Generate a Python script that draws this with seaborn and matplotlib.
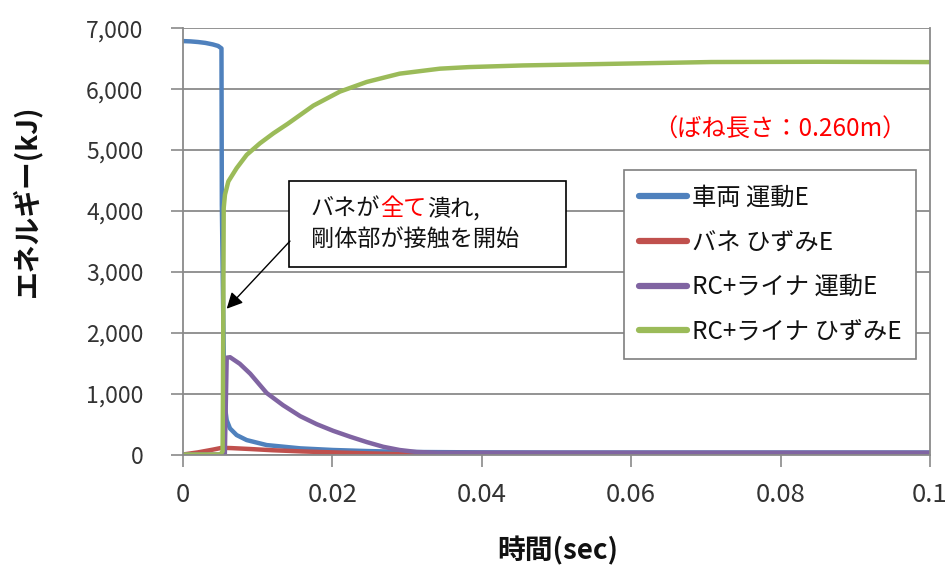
import numpy as np
import pandas as pd
import matplotlib
matplotlib.use("Agg")
import matplotlib.pyplot as plt
import matplotlib.ticker as mticker
from matplotlib.patches import Rectangle
import seaborn as sns

# ---------------- data ----------------
series_names = ["車両 運動E", "バネ ひずみE", "RC+ライナ 運動E", "RC+ライナ ひずみE"]
series_colors = ["#4F81BD", "#C0504D", "#8064A2", "#9BBB59"]

car_t = [0, 0.001, 0.002, 0.003, 0.004, 0.0047, 0.00515, 0.0052, 0.0055, 0.00562, 0.00585,
         0.00629, 0.00718, 0.00852, 0.0112, 0.0157, 0.0201, 0.0246, 0.03, 0.04, 0.05,
         0.06, 0.07, 0.08, 0.09, 0.1]
car_e = [6790, 6785, 6775, 6760, 6735, 6710, 6670, 4100, 1200, 781, 564,
         428, 319, 237, 155, 101, 74, 57, 42, 35, 32,
         32, 32, 32, 32, 32]

spring_t = [0, 0.002, 0.004, 0.0052, 0.0065, 0.009, 0.012, 0.016, 0.02, 0.025, 0.03, 0.04, 0.1]
spring_e = [0, 35, 80, 110, 105, 90, 70, 50, 35, 18, 5, 0, 0]

rc_kin_t = [0, 0.005, 0.0056, 0.00585, 0.0063, 0.0076, 0.0090, 0.0112, 0.0134, 0.0157,
            0.0179, 0.0201, 0.0224, 0.0246, 0.0268, 0.029, 0.0313, 0.034, 0.04, 0.06,
            0.08, 0.1]
rc_kin_e = [0, 0, 0, 1590, 1598, 1490, 1327, 1010, 809, 629,
            498, 389, 291, 204, 127, 74, 41, 30, 30, 30,
            30, 30]

rc_str_t = [0, 0.002, 0.004, 0.005, 0.0053, 0.00535, 0.0054, 0.00545, 0.00562, 0.00607,
            0.00718, 0.00853, 0.0103, 0.0121, 0.0140, 0.01745, 0.021, 0.0246, 0.029,
            0.0344, 0.0383, 0.0455, 0.0568, 0.0707, 0.085, 0.1]
rc_str_e = [0, 0, 0, 0, 50, 1000, 2500, 4049, 4268, 4485,
            4703, 4922, 5111, 5275, 5430, 5730, 5960, 6119, 6255,
            6337, 6363, 6390, 6415, 6446, 6450, 6445]

x_ticks = [0, 0.02, 0.04, 0.06, 0.08, 0.1]
x_tick_labels = ["0", "0.02", "0.04", "0.06", "0.08", "0.1"]
y_ticks = [0, 1000, 2000, 3000, 4000, 5000, 6000, 7000]

x_label = "時間(sec)"
y_label = "エネルギー(kJ)"
note_text = "（ばね長さ：0.260m）"
ann_parts_line1 = ["バネが", "全て", "潰れ,"]
ann_line2 = "剛体部が接触を開始"
arrow_from = (0.01432, 3505)
arrow_to = (0.00585, 2394)

# ---------------- frame ----------------
frames = []
for name, t, e in zip(series_names,
                      [car_t, spring_t, rc_kin_t, rc_str_t],
                      [car_e, spring_e, rc_kin_e, rc_str_e]):
    frames.append(pd.DataFrame({"t": t, "E": e, "series": name}))
df = pd.concat(frames, ignore_index=True)

sns.set_theme(style="white")
plt.rcParams["font.family"] = ["Noto Sans CJK JP", "DejaVu Sans"]

fig = plt.figure(figsize=(9.49, 5.70), dpi=100)
ax = fig.add_axes([183 / 949, 1 - 454.5 / 570, (930 - 183) / 949, (454.5 - 28.3) / 570])

sns.lineplot(data=df, x="t", y="E", hue="series", hue_order=series_names,
             palette=series_colors, estimator=None, sort=False,
             linewidth=3.2, ax=ax, legend=False)
for ln in ax.get_lines():
    ln.set_solid_joinstyle("round")
    ln.set_solid_capstyle("round")

ax.set_xlim(0, 0.1)
ax.set_ylim(0, 7000)
ax.set_xticks(x_ticks)
ax.set_xticklabels(x_tick_labels)
ax.set_yticks(y_ticks)
ax.yaxis.set_major_formatter(mticker.FuncFormatter(lambda v, p: f"{int(v):,}"))

ax.grid(axis="y", color="#8a8a8a", linewidth=1.3)
ax.grid(axis="x", visible=False)
ax.set_axisbelow(True)
for s in ["left", "bottom", "right"]:
    ax.spines[s].set_color("#8a8a8a")
    ax.spines[s].set_linewidth(1.3)
ax.spines["top"].set_visible(False)

ax.tick_params(axis="y", which="major", direction="out", length=8.5, width=1.2,
               color="#8a8a8a", labelsize=16.5, labelcolor="#333333", pad=20, left=True)
ax.tick_params(axis="x", which="major", direction="out", length=8.5, width=1.2,
               color="#8a8a8a", labelsize=18.5, labelcolor="#333333", pad=11, bottom=True)
ax.set_xlabel("")
ax.set_ylabel("")

fig.text(558 / 949, 1 - 551 / 570, x_label, ha="center", va="center",
         fontsize=20, fontweight="bold", color="#111111")
fig.text(26 / 949, 1 - 201 / 570, y_label, ha="center", va="center", rotation=90,
         fontsize=20, fontweight="bold", color="#111111")

# legend
handles = [plt.Line2D([0], [0], color=c, lw=4.5) for c in series_colors]
leg = ax.legend(handles, series_names, loc="upper left",
                bbox_to_anchor=((624 - 183) / 747, (454.5 - 170) / 426.2),
                fontsize=17.5, frameon=True, fancybox=False, edgecolor="#7f7f7f",
                framealpha=1, handlelength=2.0, handletextpad=0.2,
                labelspacing=0.77, borderpad=0.6, borderaxespad=0)
leg.get_frame().set_linewidth(1.2)
for txt in leg.get_texts():
    txt.set_color("#111111")

# red note
ax.text(0.0799, 5335, note_text, color="#FF0000", fontsize=17.5, ha="center", va="center")

# annotation box
ax.add_patch(Rectangle(((289 - 183) / 747, (454.5 - 266.7) / 426.2), 277 / 747, 86 / 426.2,
                       transform=ax.transAxes, facecolor="white", edgecolor="black",
                       linewidth=1.2, zorder=5))
t1 = ax.text((311 - 183) / 747, (454.5 - 208.5) / 426.2, ann_parts_line1[0],
             transform=ax.transAxes, fontsize=16.7, color="#111111",
             ha="left", va="center", zorder=6)
t2 = ax.annotate(ann_parts_line1[1], xy=(1, 0.5), xycoords=t1, ha="left", va="center",
                 fontsize=16.7, color="#FF0000", zorder=6)
ax.annotate(ann_parts_line1[2], xy=(1, 0.5), xycoords=t2, ha="left", va="center",
            fontsize=16.7, color="#111111", zorder=6)
ax.text((311 - 183) / 747, (454.5 - 239) / 426.2, ann_line2,
        transform=ax.transAxes, fontsize=16.7, color="#111111",
        ha="left", va="center", zorder=6)

ax.annotate("", xy=arrow_to, xytext=arrow_from,
            arrowprops=dict(arrowstyle="-|>", color="black", lw=1.0,
                            mutation_scale=24, shrinkA=0, shrinkB=0), zorder=6)

fig.savefig("out.png", dpi=100)
